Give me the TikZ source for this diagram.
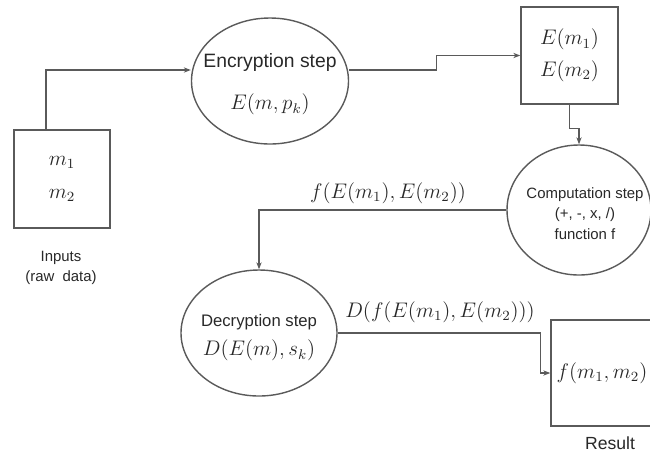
\documentclass[tikz,border=0pt]{standalone}
\usepackage{amsmath, amssymb}
\usepackage{fontspec}
\setmainfont{Liberation Sans}
\usepackage{tikz}
\usetikzlibrary{shapes,shapes.geometric,arrows.meta,positioning}

\definecolor{linegray}{RGB}{90,90,90}
\definecolor{textgray}{RGB}{40,40,40}

\begin{document}
\begin{tikzpicture}
        \tikzstyle{every node} = [align=center, text=textgray]
        \tikzstyle{box} = [draw=linegray, line width=0.8pt, rectangle, inner sep=0pt]
        \tikzstyle{ell} = [draw=linegray, line width=0.8pt, ellipse, inner sep=0pt]
        \tikzstyle{maths} = [font=\fontsize{12}{18}\selectfont]
        \tikzstyle{link} = [draw=linegray, line width=0.8pt, -{Stealth[length=4pt, width=3pt]}]
        \useasboundingbox (0,0) rectangle (13,-9.08);
        \clip (0,0) rectangle (13,-9.08);

        % boxes and steps
        \node[box, maths, minimum width=1.92cm, minimum height=1.96cm](in) at (1.24,-3.58){$m_1$\\[1pt] $m_2$};
        \node[font=\fontsize{8.5}{11.5}\selectfont](intxt) at (1.22,-5.36){Inputs\\(raw\ \ data)};
        \node[ell, minimum width=3.14cm, minimum height=2.52cm](enc) at (5.40,-1.62){};
        \node[font=\fontsize{11}{14}\selectfont](enctxt) at (5.40,-1.69){Encryption step\\[10pt] {\fontsize{12}{14}\selectfont $E(m, p_k)$}};
        \node[box, maths, minimum width=1.94cm, minimum height=1.94cm](ebox) at (11.39,-1.11){$E(m_1)$\\ $E(m_2)$};
        \node[ell, minimum width=2.88cm, minimum height=2.60cm](comp) at (11.58,-4.20){};
        \node[font=\fontsize{8.5}{11.5}\selectfont](comptxt) at (11.70,-4.27){Computation step\\(+, -, x, /)\\function f};
        \node[ell, minimum width=3.12cm, minimum height=2.52cm](dec) at (5.18,-6.66){};
        \node[font=\fontsize{9.5}{11.5}\selectfont](dectxt) at (5.18,-6.76){Decryption step\\[5pt] {\fontsize{12}{14}\selectfont $D(E(m), s_k)$}};
        \node[box, maths, minimum width=2.04cm, minimum height=2.12cm](res) at (12.04,-7.46){$f(m_1, m_2)$};
        \node[font=\fontsize{10}{12}\selectfont](restxt) at (12.20,-8.86){Result};

        % connectors
        \path[link] ([xshift=-0.32cm]in.north) |- ([yshift=0.22cm]enc.west);
        \path[link] ([yshift=0.22cm]enc.east) -- ++(1.74,0) |- (ebox.west);
        \path[link] (ebox.south) -- ++(0,-0.48) -| (comp.north);
        \path[link] (comp.west) -| (dec.north);
        \path[link] (dec.east) -- ++(4.06,0) |- (res.west);

        % edge labels
        \node[maths](flab) at (7.76,-3.86){$f(E(m_1), E(m_2))$};
        \node[maths](dlab) at (8.80,-6.24){$D(f(E(m_1), E(m_2)))$};
    \end{tikzpicture}
\end{document}
